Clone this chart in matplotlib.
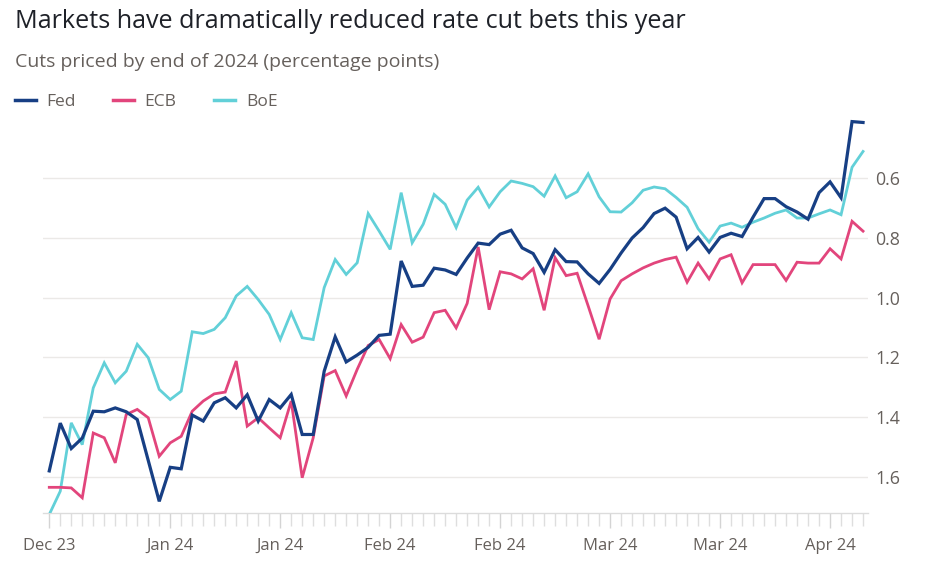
import matplotlib
matplotlib.use("Agg")
import matplotlib.pyplot as plt
from matplotlib.lines import Line2D
import pandas as pd

# ---------------- data ----------------
dates = pd.bdate_range("2023-12-28", periods=75)

fed = [1.580, 1.420, 1.505, 1.470, 1.380, 1.382, 1.369, 1.382, 1.408, 1.545,
       1.682, 1.568, 1.573, 1.393, 1.413, 1.352, 1.335, 1.369, 1.325, 1.413,
       1.341, 1.369, 1.324, 1.458, 1.458, 1.246, 1.131, 1.215, 1.192, 1.166,
       1.126, 1.122, 0.877, 0.962, 0.958, 0.901, 0.907, 0.922, 0.867, 0.817,
       0.822, 0.787, 0.774, 0.833, 0.852, 0.915, 0.839, 0.879, 0.880, 0.920,
       0.952, 0.905, 0.850, 0.800, 0.765, 0.718, 0.700, 0.730, 0.836, 0.798,
       0.847, 0.798, 0.784, 0.795, 0.730, 0.668, 0.668, 0.695, 0.713, 0.737,
       0.648, 0.612, 0.665, 0.410, 0.413]

ecb = [1.635, 1.635, 1.637, 1.670, 1.453, 1.469, 1.553, 1.391, 1.374, 1.402,
       1.531, 1.486, 1.464, 1.380, 1.346, 1.322, 1.316, 1.212, 1.430, 1.402,
       1.436, 1.469, 1.346, 1.603, 1.469, 1.262, 1.244, 1.329, 1.240, 1.160,
       1.140, 1.204, 1.090, 1.149, 1.132, 1.050, 1.042, 1.101, 1.019, 0.830,
       1.040, 0.913, 0.920, 0.937, 0.903, 1.042, 0.866, 0.926, 0.918, 1.027,
       1.139, 1.004, 0.943, 0.920, 0.900, 0.884, 0.872, 0.864, 0.948, 0.884,
       0.937, 0.870, 0.856, 0.950, 0.889, 0.889, 0.889, 0.942, 0.881, 0.884,
       0.884, 0.836, 0.870, 0.744, 0.777]

boe = [1.726, 1.648, 1.419, 1.492, 1.302, 1.218, 1.285, 1.246, 1.156, 1.201,
       1.307, 1.341, 1.313, 1.114, 1.120, 1.106, 1.067, 0.994, 0.962, 1.006,
       1.056, 1.140, 1.050, 1.134, 1.140, 0.966, 0.872, 0.922, 0.883, 0.718,
       0.777, 0.838, 0.648, 0.816, 0.754, 0.654, 0.687, 0.765, 0.673, 0.630,
       0.696, 0.645, 0.609, 0.617, 0.628, 0.660, 0.592, 0.665, 0.645, 0.585,
       0.662, 0.712, 0.713, 0.682, 0.640, 0.629, 0.635, 0.664, 0.697, 0.769,
       0.814, 0.760, 0.750, 0.764, 0.747, 0.733, 0.717, 0.706, 0.733, 0.733,
       0.719, 0.706, 0.722, 0.563, 0.510]

series_names = ["Fed", "ECB", "BoE"]
label_idx = [0, 11, 21, 31, 41, 51, 61, 71]
tick_labels = [dates[i].strftime("%b %y") for i in label_idx]
y_ticks = [0.6, 0.8, 1.0, 1.2, 1.4, 1.6]

title = "Markets have dramatically reduced rate cut bets this year"
subtitle = "Cuts priced by end of 2024 (percentage points)"

# ---------------- style ----------------
FONT = "Open Sans"
plt.rcParams["font.family"] = [FONT, "DejaVu Sans"]
C_FED = "#173f84"
C_ECB = "#e2457c"
C_BOE = "#62d0d8"
GREY = "#66605c"

W, H = 928, 563
fig = plt.figure(figsize=(W / 100, H / 100), dpi=100)
fig.patch.set_facecolor("white")

ax_left, ax_right = 43, 868
ax_top, ax_bot = 118.6, 513.3
ax = fig.add_axes([ax_left / W, 1 - ax_bot / H,
                   (ax_right - ax_left) / W, (ax_bot - ax_top) / H])

x = list(range(len(fed)))
ax.plot(x, boe, color=C_BOE, lw=2.0, solid_joinstyle="miter", zorder=3)
ax.plot(x, ecb, color=C_ECB, lw=2.0, solid_joinstyle="miter", zorder=4)
ax.plot(x, fed, color=C_FED, lw=2.3, solid_joinstyle="miter", zorder=5)

ax.set_xlim(-0.57, 74.45)
ax.set_ylim(1.722, 0.40)

ax.yaxis.tick_right()
ax.set_yticks(y_ticks)
ax.set_yticklabels([f"{v:.1f}" for v in y_ticks])
ax.tick_params(axis="y", length=0, pad=5, labelsize=12.8, labelcolor=GREY)
ax.grid(axis="y", color="#ebe9e7", lw=1.0, zorder=0)

for s in ["top", "left", "right"]:
    ax.spines[s].set_visible(False)
ax.spines["bottom"].set_color("#dcdcdc")
ax.spines["bottom"].set_linewidth(1.0)

ax.set_xticks(label_idx)
ax.set_xticklabels(tick_labels)
ax.set_xticks(x, minor=True)
ax.tick_params(axis="x", which="major", length=11, width=1.0, color="#d4d4d4",
               pad=7, labelsize=12, labelcolor=GREY)
ax.tick_params(axis="x", which="minor", length=9, width=1.0, color="#dedede")

# ---------------- titles ----------------
fig.text(15 / W, 1 - 28 / H, title, fontsize=18.1, color="#1e2128",
         ha="left", va="baseline")
fig.text(15 / W, 1 - 67 / H, subtitle, fontsize=14, color=GREY,
         ha="left", va="baseline")

# ---------------- legend ----------------
leg = [(15, 46, C_FED), (113, 144, C_ECB), (214, 246, C_BOE)]
for name, (x0, xt, c) in zip(series_names, leg):
    fig.add_artist(Line2D([x0 / W, (x0 + 21) / W], [1 - 99.5 / H] * 2,
                          transform=fig.transFigure, color=c, lw=2.5))
    fig.text(xt / W, 1 - 106 / H, name, fontsize=12.5, color=GREY,
             ha="left", va="baseline")

fig.savefig("out.png", dpi=100, facecolor="white")
